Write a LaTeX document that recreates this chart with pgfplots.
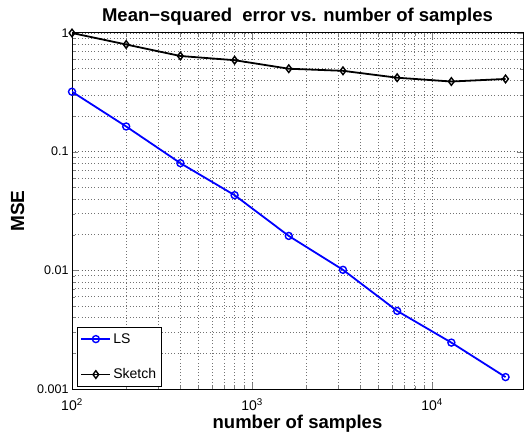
\documentclass[border=0pt]{standalone}
\usepackage{pgfplots}
\pgfplotsset{compat=1.18}
\usepackage{fontspec}
\setmainfont{Liberation Sans}
\definecolor{lsblue}{RGB}{0,0,255}

\begin{document}
\begin{tikzpicture}
\begin{axis}[
    name = ax,
    xmode = log, ymode = log,
    scale only axis,
    width = 451pt, height = 356pt,
    xmin = 100, xmax = 32000,
    ymin = 0.001, ymax = 1,
    xtick = {100,1000,10000},
    xticklabels = {10\textsuperscript{2},10\textsuperscript{3},10\textsuperscript{4}},
    ytick = {0.001,0.01,0.1,1},
    yticklabels = {0.001,0.01,0.1,1},
    tick label style = {font=\fontsize{12.5}{14}\selectfont},
    xticklabel style = {font=\fontsize{14}{16}\selectfont, yshift=-6pt},
    tick align = inside,
    major tick length = 6pt,
    minor tick length = 3pt,
    grid = both,
    major grid style = {black!60, line width=0.55pt, dash pattern=on 0.8pt off 2.4pt},
    minor grid style = {black!55, line width=0.55pt, dash pattern=on 0.8pt off 2.4pt},
    axis line style = {black, line width=1pt},
    title = {\textbf{Mean−squared\ \ error vs. number of samples}},
    title style = {font=\fontsize{18.5}{20}\selectfont, yshift=-2pt},
    xlabel = {\textbf{number of samples}},
    xlabel style = {font=\fontsize{18.5}{20}\selectfont, yshift=3pt},
    ylabel = {\textbf{MSE}},
    ylabel style = {font=\fontsize{19}{21}\selectfont, yshift=6pt},
    legend style = {at={(0.011,0.006)}, anchor=south west,
                    font=\fontsize{14}{16}\selectfont,
                    draw=black, line width=1pt, row sep=20pt,
                    inner xsep=3pt, inner ysep=4pt},
    legend cell align = left,
    legend image code/.code = {
      \draw[mark repeat=2, mark phase=2, #1]
        plot coordinates {(0pt,0pt) (14.5pt,0pt) (29pt,0pt)};
    },
  ]
  \addplot[lsblue, line width=1.8pt, mark=o, mark size=3.5pt,
           mark options={line width=1.4pt}] coordinates {
    (100,0.32) (200,0.163) (400,0.080) (800,0.043) (1600,0.0195)
    (3200,0.0101) (6400,0.00455) (12800,0.00246) (25600,0.00126)
  };
  \addlegendentry{LS}
  \addplot[black, line width=1.8pt, mark=diamond, mark size=3.8pt,
           mark options={line width=1.4pt}] coordinates {
    (100,1.0) (200,0.80) (400,0.64) (800,0.59) (1600,0.50)
    (3200,0.48) (6400,0.42) (12800,0.39) (25600,0.41)
  };
  \addlegendentry{Sketch}
\end{axis}
\pgfresetboundingbox
\path (ax.south west) ++(-72pt,-48pt) rectangle ++(525pt,437pt);
\end{tikzpicture}
\end{document}
